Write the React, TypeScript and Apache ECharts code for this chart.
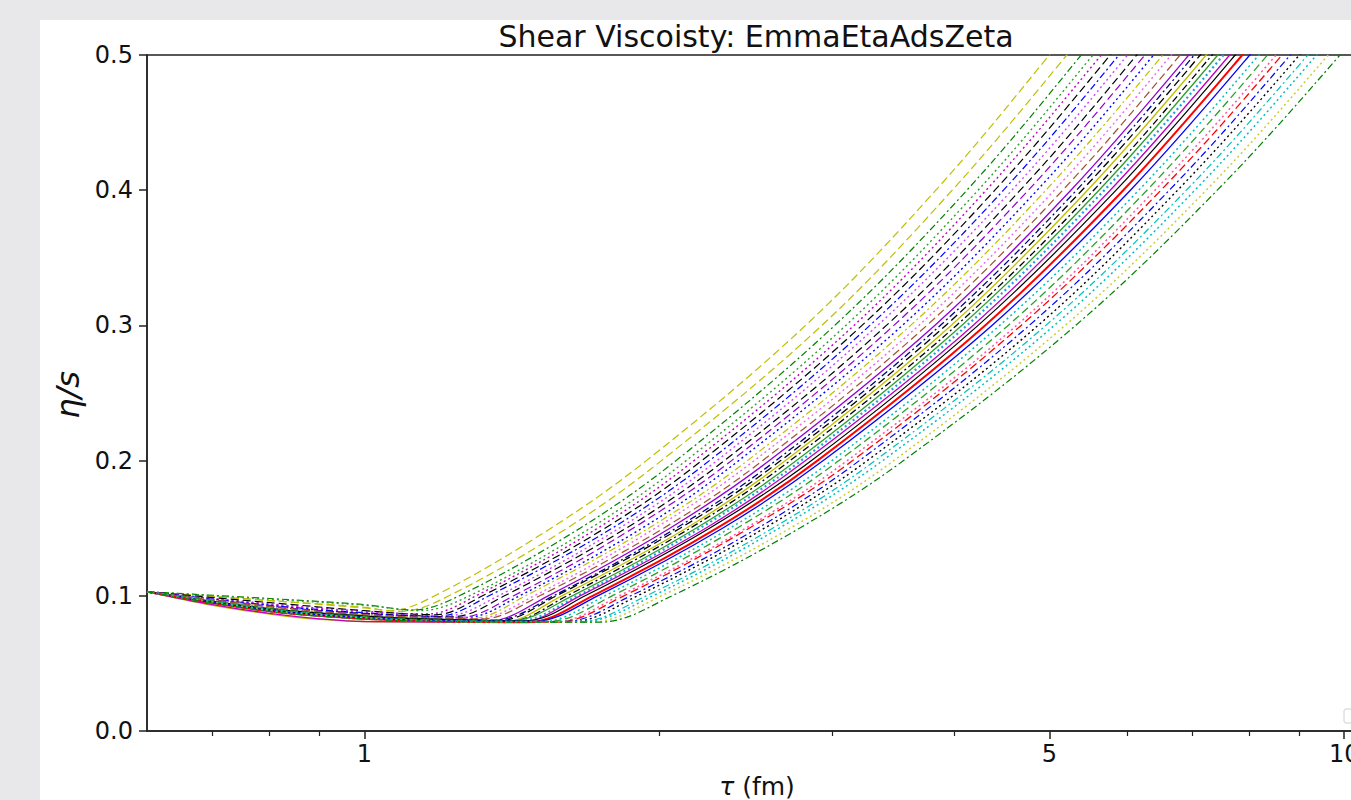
import React, { useEffect, useRef } from "react";
import * as echarts from "echarts";

// Tick values
const xMajorTicks = [1, 5, 10];
const xMinorTicks = [0.7, 0.8, 0.9, 2, 3, 4, 6, 7, 8, 9];
const yTicks = [0, 0.1, 0.2, 0.3, 0.4, 0.5];

// Curves: [tau (fm), eta/s], top (earliest rise) to bottom
const c01 = [[0.6, 0.103], [0.8, 0.0965], [1.0, 0.0915], [1.06, 0.089], [1.18, 0.1], [1.55, 0.15], [1.94, 0.2], [2.82, 0.3], [3.83, 0.4], [5.0, 0.5], [5.79, 0.56]];
const c02 = [[0.6, 0.103], [0.8, 0.0965], [1.0, 0.091], [1.09, 0.0885], [1.22, 0.1], [1.61, 0.15], [2.01, 0.2], [2.93, 0.3], [3.98, 0.4], [5.21, 0.5], [6.04, 0.56]];
const c03 = [[0.6, 0.103], [0.8, 0.098], [1.0, 0.0935], [1.12, 0.0895], [1.25, 0.1], [1.66, 0.15], [2.08, 0.2], [3.02, 0.3], [4.12, 0.4], [5.39, 0.5], [6.25, 0.56]];
const c04 = [[0.6, 0.103], [0.8, 0.0975], [1.0, 0.093], [1.14, 0.089], [1.28, 0.1], [1.7, 0.15], [2.13, 0.2], [3.1, 0.3], [4.23, 0.4], [5.54, 0.5], [6.42, 0.56]];
const c05 = [[0.6, 0.103], [0.8, 0.094], [1.0, 0.0885], [1.16, 0.0865], [1.3, 0.1], [1.73, 0.15], [2.17, 0.2], [3.16, 0.3], [4.31, 0.4], [5.65, 0.5], [6.56, 0.56]];
const c06 = [[0.6, 0.103], [0.8, 0.095], [1.0, 0.089], [1.18, 0.086], [1.32, 0.1], [1.76, 0.15], [2.21, 0.2], [3.22, 0.3], [4.4, 0.4], [5.77, 0.5], [6.69, 0.56]];
const c07 = [[0.6, 0.103], [0.8, 0.093], [1.0, 0.0875], [1.19, 0.085], [1.34, 0.1], [1.79, 0.15], [2.25, 0.2], [3.28, 0.3], [4.49, 0.4], [5.89, 0.5], [6.83, 0.56]];
const c08 = [[0.6, 0.103], [0.8, 0.0935], [1.0, 0.088], [1.21, 0.085], [1.37, 0.1], [1.82, 0.15], [2.29, 0.2], [3.34, 0.3], [4.58, 0.4], [6.01, 0.5], [6.97, 0.56]];
const c09 = [[0.6, 0.103], [0.8, 0.092], [1.0, 0.087], [1.23, 0.0845], [1.39, 0.1], [1.85, 0.15], [2.33, 0.2], [3.41, 0.3], [4.67, 0.4], [6.14, 0.5], [7.12, 0.56]];
const c10 = [[0.6, 0.103], [0.8, 0.0925], [1.0, 0.0865], [1.25, 0.084], [1.42, 0.1], [1.88, 0.15], [2.37, 0.2], [3.47, 0.3], [4.76, 0.4], [6.26, 0.5], [7.27, 0.56]];
const c11 = [[0.6, 0.103], [0.8, 0.093], [1.0, 0.087], [1.27, 0.084], [1.44, 0.1], [1.92, 0.15], [2.41, 0.2], [3.54, 0.3], [4.86, 0.4], [6.39, 0.5], [7.42, 0.56]];
const c12 = [[0.6, 0.103], [0.8, 0.092], [1.0, 0.086], [1.29, 0.0835], [1.46, 0.1], [1.95, 0.15], [2.46, 0.2], [3.61, 0.3], [4.96, 0.4], [6.53, 0.5], [7.58, 0.56]];
const c13 = [[0.6, 0.103], [0.8, 0.0915], [1.0, 0.0855], [1.3, 0.083], [1.49, 0.1], [1.98, 0.15], [2.5, 0.2], [3.68, 0.3], [5.06, 0.4], [6.66, 0.5], [7.73, 0.56]];
const c14 = [[0.6, 0.103], [0.8, 0.092], [1.0, 0.086], [1.32, 0.083], [1.51, 0.1], [2.02, 0.15], [2.55, 0.2], [3.75, 0.3], [5.16, 0.4], [6.8, 0.5], [7.89, 0.56]];
const c15 = [[0.6, 0.103], [0.8, 0.0895], [1.0, 0.084], [1.2, 0.082], [1.34, 0.0815], [1.54, 0.1], [2.05, 0.15], [2.59, 0.2], [3.82, 0.3], [5.26, 0.4], [6.94, 0.5], [8.06, 0.56]];
const c16 = [[0.6, 0.103], [0.8, 0.09], [1.0, 0.0845], [1.2, 0.0825], [1.36, 0.082], [1.56, 0.1], [2.08, 0.15], [2.63, 0.2], [3.87, 0.3], [5.33, 0.4], [7.03, 0.5], [8.17, 0.56]];
const c17 = [[0.6, 0.103], [0.8, 0.0895], [1.0, 0.084], [1.2, 0.082], [1.37, 0.0815], [1.57, 0.1], [2.1, 0.15], [2.66, 0.2], [3.92, 0.3], [5.4, 0.4], [7.13, 0.5], [8.29, 0.56]];
const c18 = [[0.6, 0.103], [0.7, 0.093], [0.8, 0.0865], [0.9, 0.0825], [1.0, 0.081], [1.38, 0.0805], [1.59, 0.1], [2.13, 0.15], [2.69, 0.2], [3.97, 0.3], [5.47, 0.4], [7.23, 0.5], [8.4, 0.56]];
const c19 = [[0.6, 0.103], [0.8, 0.089], [1.0, 0.0835], [1.2, 0.0815], [1.4, 0.081], [1.61, 0.1], [2.15, 0.15], [2.72, 0.2], [4.02, 0.3], [5.55, 0.4], [7.33, 0.5], [8.52, 0.56]];
const c20 = [[0.6, 0.103], [0.8, 0.0905], [1.0, 0.085], [1.2, 0.0825], [1.41, 0.0815], [1.63, 0.1], [2.18, 0.15], [2.76, 0.2], [4.07, 0.3], [5.62, 0.4], [7.43, 0.5], [8.64, 0.56]];
const c21 = [[0.6, 0.103], [0.8, 0.0895], [1.0, 0.084], [1.2, 0.082], [1.43, 0.081], [1.65, 0.1], [2.2, 0.15], [2.79, 0.2], [4.12, 0.3], [5.69, 0.4], [7.53, 0.5], [8.76, 0.56]];
const c22 = [[0.6, 0.103], [0.7, 0.0935], [0.8, 0.087], [0.9, 0.083], [1.0, 0.081], [1.44, 0.0805], [1.66, 0.1], [2.23, 0.15], [2.82, 0.2], [4.18, 0.3], [5.77, 0.4], [7.64, 0.5], [8.88, 0.56]];
const c23 = [[0.6, 0.103], [0.8, 0.0905], [1.0, 0.085], [1.2, 0.0825], [1.46, 0.0815], [1.68, 0.1], [2.25, 0.15], [2.86, 0.2], [4.23, 0.3], [5.85, 0.4], [7.74, 0.5], [9.0, 0.56]];
const c24 = [[0.6, 0.103], [0.8, 0.0885], [1.0, 0.083], [1.2, 0.081], [1.47, 0.0805], [1.71, 0.1], [2.29, 0.15], [2.9, 0.2], [4.3, 0.3], [5.95, 0.4], [7.87, 0.5], [9.16, 0.56]];
const c25 = [[0.6, 0.103], [0.8, 0.089], [1.0, 0.0835], [1.2, 0.0815], [1.49, 0.081], [1.73, 0.1], [2.32, 0.15], [2.94, 0.2], [4.37, 0.3], [6.05, 0.4], [8.01, 0.5], [9.32, 0.56]];
const c26 = [[0.6, 0.103], [0.8, 0.0885], [1.0, 0.083], [1.2, 0.081], [1.51, 0.0805], [1.76, 0.1], [2.36, 0.15], [3.0, 0.2], [4.45, 0.3], [6.17, 0.4], [8.18, 0.5], [9.51, 0.56]];
const c27 = [[0.6, 0.103], [0.8, 0.0905], [1.0, 0.0845], [1.2, 0.082], [1.54, 0.081], [1.79, 0.1], [2.4, 0.15], [3.05, 0.2], [4.54, 0.3], [6.29, 0.4], [8.35, 0.5], [9.71, 0.56]];
const c28 = [[0.6, 0.103], [0.8, 0.089], [1.0, 0.0835], [1.2, 0.081], [1.56, 0.0805], [1.82, 0.1], [2.45, 0.15], [3.11, 0.2], [4.63, 0.3], [6.41, 0.4], [8.52, 0.5], [9.91, 0.56]];
const c29 = [[0.6, 0.103], [0.8, 0.0885], [1.0, 0.083], [1.2, 0.081], [1.57, 0.0805], [1.84, 0.1], [2.47, 0.15], [3.15, 0.2], [4.68, 0.3], [6.5, 0.4], [8.64, 0.5], [10.05, 0.56]];
const c30 = [[0.6, 0.103], [0.8, 0.0895], [1.0, 0.084], [1.2, 0.0815], [1.6, 0.081], [1.87, 0.1], [2.52, 0.15], [3.2, 0.2], [4.77, 0.3], [6.63, 0.4], [8.81, 0.5], [10.26, 0.56]];
const c31 = [[0.6, 0.103], [0.8, 0.089], [1.0, 0.0835], [1.2, 0.081], [1.62, 0.0805], [1.9, 0.1], [2.56, 0.15], [3.26, 0.2], [4.87, 0.3], [6.76, 0.4], [9.0, 0.5], [10.47, 0.56]];
const c32 = [[0.6, 0.103], [0.8, 0.0885], [1.0, 0.083], [1.2, 0.081], [1.65, 0.0805], [1.94, 0.1], [2.61, 0.15], [3.32, 0.2], [4.96, 0.3], [6.9, 0.4], [9.18, 0.5], [10.69, 0.56]];
const c33 = [[0.6, 0.103], [0.8, 0.09], [1.0, 0.084], [1.2, 0.0815], [1.67, 0.081], [1.97, 0.1], [2.65, 0.15], [3.38, 0.2], [5.06, 0.3], [7.04, 0.4], [9.37, 0.5], [10.92, 0.56]];
const c34 = [[0.6, 0.103], [0.8, 0.089], [1.0, 0.0835], [1.2, 0.081], [1.7, 0.0805], [2.01, 0.1], [2.72, 0.15], [3.47, 0.2], [5.19, 0.3], [7.23, 0.4], [9.63, 0.5], [11.22, 0.56]];
const c35 = [[0.6, 0.103], [0.8, 0.0885], [1.0, 0.083], [1.2, 0.081], [1.74, 0.0805], [2.06, 0.1], [2.78, 0.15], [3.55, 0.2], [5.32, 0.3], [7.42, 0.4], [9.9, 0.5], [11.54, 0.56]];

const curveData = [c01, c02, c03, c04, c05, c06, c07, c08, c09, c10, c11, c12, c13, c14, c15, c16, c17, c18,
  c19, c20, c21, c22, c23, c24, c25, c26, c27, c28, c29, c30, c31, c32, c33, c34, c35];

// Styles (colour, dash kind, width) per curve, same order
const curveStyles: [string, string, number][] = [
  ["#bfbf00", "dashed", 1.2], ["#bfbf00", "dashed", 1.2], ["#008000", "dashdot", 1.2], ["#2ca02c", "dotted", 1.4],
  ["#bf00bf", "dotted", 1.4], ["#000000", "dashed", 1.2], ["#0000ff", "dashdot", 1.2], ["#cc44ff", "dotted", 1.4],
  ["#000000", "dashed", 1.2], ["#9400d3", "dashed", 1.2], ["#0000ff", "dotted", 1.4], ["#bfbf00", "dashdot", 1.2],
  ["#ee66ee", "dotted", 1.4], ["#a0522d", "dashed", 1.2], ["#9400d3", "solid", 1.3], ["#00008b", "dashdot", 1.3],
  ["#000000", "dashed", 1.3], ["#bfbf00", "solid", 1.3], ["#000000", "dashdot", 1.3], ["#2ca02c", "solid", 1.3],
  ["#1f9fe0", "dotted", 2.2], ["#bf00bf", "solid", 1.3], ["#000000", "solid", 1.2], ["#ff0000", "solid", 2.0],
  ["#0000ff", "solid", 1.3], ["#00bfbf", "dotted", 1.5], ["#2ca02c", "dashed", 1.3], ["#ff55aa", "dotted", 1.5],
  ["#ff0000", "dashed", 1.3], ["#0000ff", "dashdot", 1.2], ["#000000", "dotted", 1.4], ["#00bfbf", "dashdot", 1.2],
  ["#00bfbf", "dotted", 1.5], ["#cccc33", "dotted", 1.5], ["#008000", "dashdot", 1.2],
];

const dashTypes: Record<string, any> = {
  solid: "solid",
  dashed: [8, 4],
  dashdot: [7, 3, 2, 3],
  dotted: [2, 3],
};

const FONT = "DejaVu Sans";

export default function App() {
  const ref = useRef<HTMLDivElement>(null);
  useEffect(() => {
    document.body.style.margin = "0";
    document.body.style.background = "#e8e8ea";
    const chart = echarts.init(ref.current!, null, { renderer: "svg" });
    const axisColor = "#222";
    const option: any = {
      animation: false,
      backgroundColor: "#ffffff",
      grid: {
        left: 107, top: 35, width: 1218, height: 676,
        outerBoundsMode: "none", containLabel: false,
        show: true, borderColor: axisColor, borderWidth: 1.5, backgroundColor: "transparent",
      },
      xAxis: [
        {
          type: "log", logBase: 10, min: 0.6, max: 10.5, position: "bottom",
          axisLine: { show: true, lineStyle: { color: axisColor, width: 1.5 } },
          axisTick: { show: true, length: 8, inside: false, customValues: xMajorTicks, lineStyle: { color: axisColor, width: 1.5 } },
          axisLabel: {
            show: true, customValues: xMajorTicks, fontSize: 24, color: "#111", margin: 11, fontFamily: FONT,
            formatter: (v: number) => String(Math.round(v)),
          },
          splitLine: { show: false },
        },
        {
          type: "log", logBase: 10, min: 0.6, max: 10.5, position: "bottom",
          axisLine: { show: false },
          axisTick: { show: true, length: 5, inside: false, customValues: xMinorTicks, lineStyle: { color: axisColor, width: 1.2 } },
          axisLabel: { show: false },
          splitLine: { show: false },
        },
      ],
      yAxis: {
        type: "value", min: 0, max: 0.5, interval: 0.1,
        axisLine: { show: true, lineStyle: { color: axisColor, width: 1.5 } },
        axisTick: { show: true, length: 8, inside: false, lineStyle: { color: axisColor, width: 1.5 } },
        axisLabel: {
          fontSize: 24, color: "#111", margin: 14, fontFamily: FONT,
          formatter: (v: number) => (yTicks.indexOf(Math.round(v * 10) / 10) >= 0 ? v.toFixed(1) : ""),
        },
        splitLine: { show: false },
      },
      series: curveData.map((d, i) => ({
        type: "line",
        xAxisIndex: 0,
        yAxisIndex: 0,
        data: d,
        showSymbol: false,
        symbol: "none",
        smooth: 0.35,
        clip: true,
        silent: true,
        lineStyle: { color: curveStyles[i][0], width: curveStyles[i][2], type: dashTypes[curveStyles[i][1]] },
      })),
      graphic: [
        {
          type: "text", x: 716, y: 16,
          style: { text: "Shear Viscoisty: EmmaEtaAdsZeta", font: `30px '${FONT}'`, fill: "#111", textAlign: "center", textVerticalAlign: "middle" },
        },
        {
          type: "text", x: 717, y: 766,
          style: {
            text: "{i|τ} (fm)", font: `25px '${FONT}'`, fill: "#111", textAlign: "center", textVerticalAlign: "middle",
            rich: { i: { fontStyle: "italic", fontSize: 25, fontFamily: FONT } },
          },
        },
        {
          type: "text", x: 28, y: 375, rotation: Math.PI / 2,
          style: { text: "η/s", font: `italic 32px '${FONT}'`, fill: "#111", textAlign: "center", textVerticalAlign: "middle" },
        },
        {
          type: "rect", shape: { x: 1304, y: 689, width: 30, height: 14, r: 2 },
          style: { fill: "rgba(255,255,255,0.8)", stroke: "#d0d0d0", lineWidth: 1 },
        },
      ],
    };
    chart.setOption(option);
    return () => chart.dispose();
  }, []);
  return (
    <div style={{ position: "fixed", left: 0, top: 0, width: 1351, height: 800, background: "#e8e8ea", overflow: "hidden" }}>
      <div ref={ref} style={{ position: "absolute", left: 40, top: 20, width: 1400, height: 780, background: "#fff" }} />
    </div>
  );
}
